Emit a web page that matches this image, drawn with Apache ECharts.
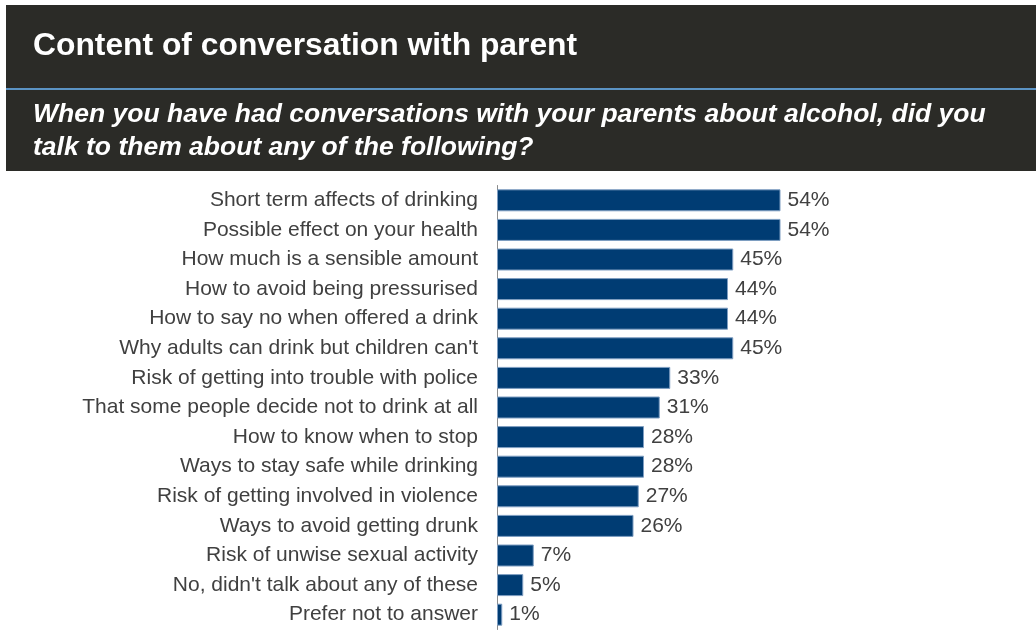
<!DOCTYPE html>
<html>
<head>
<meta charset="utf-8">
<script src="https://cdn.jsdelivr.net/npm/echarts@6/dist/echarts.min.js"></script>
<style>
  html, body { margin: 0; padding: 0; background: #ffffff; }
  #chart { width: 1036px; height: 630px; }
</style>
</head>
<body>
<div id="chart"></div>
<script>
// Topics discussed with parents, top to bottom
const categories = [
  "Short term affects of drinking",
  "Possible effect on your health",
  "How much is a sensible amount",
  "How to avoid being pressurised",
  "How to say no when offered a drink",
  "Why adults can drink but children can't",
  "Risk of getting into trouble with police",
  "That some people decide not to drink at all",
  "How to know when to stop",
  "Ways to stay safe while drinking",
  "Risk of getting involved in violence",
  "Ways to avoid getting drunk",
  "Risk of unwise sexual activity",
  "No, didn't talk about any of these",
  "Prefer not to answer"
];
// Share of respondents (%)
const values = [54, 54, 45, 44, 44, 45, 33, 31, 28, 28, 27, 26, 7, 5, 1];

const titleText = "Content of conversation with parent";
const subtitleLines = [
  "When you have had conversations with your parents about alcohol, did you",
  "talk to them about any of the following?"
];

const chart = echarts.init(document.getElementById("chart"), null, { renderer: "canvas" });

const font = "'Liberation Sans', Arial, Helvetica, sans-serif";

chart.setOption({
  animation: false,
  backgroundColor: "#ffffff",
  graphic: [
    { type: "rect", left: 6, top: 5, shape: { width: 1030, height: 166 },
      style: { fill: "#2b2b27" } },
    { type: "rect", left: 6, top: 88, shape: { width: 1030, height: 2 },
      style: { fill: "#5b93c4" } },
    { type: "text", x: 33, y: 46,
      style: { text: titleText, fill: "#ffffff", font: "bold 31.8px " + font, verticalAlign: "middle" } },
    { type: "text", x: 33, y: 115,
      style: { text: subtitleLines[0], fill: "#ffffff", font: "italic bold 26.5px " + font, verticalAlign: "middle" } },
    { type: "text", x: 33, y: 148,
      style: { text: subtitleLines[1], fill: "#ffffff", font: "italic bold 26.5px " + font, verticalAlign: "middle" } }
  ],
  grid: { left: 497, top: 185.5, width: 525, height: 444, containLabel: false },
  xAxis: {
    type: "value", min: 0, max: 100,
    show: false
  },
  yAxis: {
    type: "category",
    data: categories,
    inverse: true,
    axisLine: { show: true, lineStyle: { color: "#8c8c8c", width: 1 } },
    axisTick: { show: false },
    axisLabel: {
      color: "#404040", fontSize: 21, fontFamily: font, margin: 19,
      padding: [3, 0, 0, 0]
    },
    splitLine: { show: false }
  },
  series: [{
    type: "bar",
    data: values,
    barWidth: 22,
    itemStyle: { color: "#003c73", borderColor: "#7f9ec2", borderWidth: 1 },
    label: {
      show: true, position: "right", distance: 7,
      formatter: p => p.value + "%",
      color: "#404040", fontSize: 21, fontFamily: font,
      padding: [3, 0, 0, 0]
    }
  }]
});
</script>
</body>
</html>
